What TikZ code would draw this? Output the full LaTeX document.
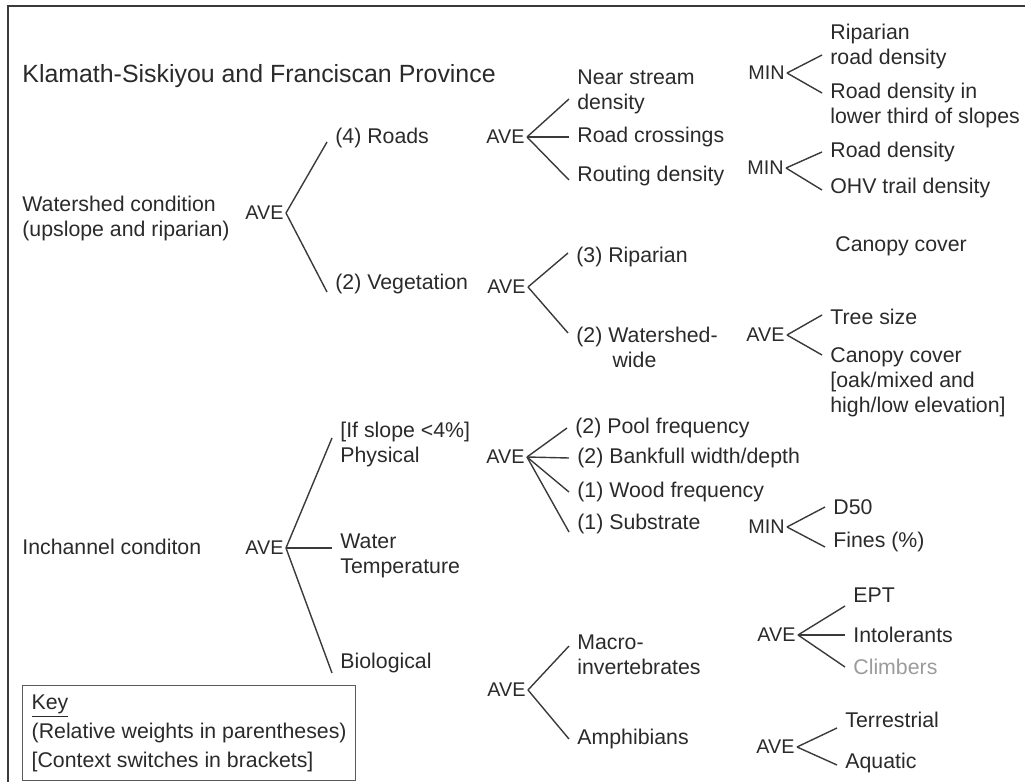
\documentclass[tikz,border=0pt]{standalone}
\usepackage{fontspec}
\setmainfont{Liberation Sans}
\usepackage{tikz}

\definecolor{ink}{HTML}{2A2A2A}
\definecolor{lineclr}{HTML}{3A3A3A}
\definecolor{faint}{HTML}{9B9B9B}
\definecolor{keyclr}{HTML}{5A5A5A}

\begin{document}
\begin{tikzpicture}[x=0.5pt,y=-0.5pt,
      root node/.style={anchor=west,inner sep=0pt,text=ink,align=left,
        font=\fontsize{10.65pt}{12.5pt}\selectfont},
      op node/.style={anchor=east,inner xsep=1pt,inner ysep=1pt,text=ink,
        font=\fontsize{9.9pt}{11pt}\selectfont},
      leaf node/.style={anchor=west,inner xsep=4pt,inner ysep=1pt,text=ink,
        align=left,font=\fontsize{10.65pt}{12.5pt}\selectfont}]
    \useasboundingbox (0,0) rectangle (1025,782);
    \draw[lineclr,line width=1pt] (1025,6) -| (8,782);

    \node[root node,font=\fontsize{12.45pt}{15pt}\selectfont] (title) at (22,76)
      {Klamath-Siskiyou and Franciscan Province};
    \node[root node] (ws) at (22,218) {Watershed condition\\(upslope and riparian)};
    \node[root node] (inch) at (22,547) {Inchannel conditon};

    % operators
    \node[op node] (aveWS) at (286,213) {AVE};
    \node[op node] (aveIC) at (286,548) {AVE};
    \node[op node] (aveRoad) at (527,137) {AVE};
    \node[op node] (aveVeg) at (528,287) {AVE};
    \node[op node] (avePhys) at (527,457) {AVE};
    \node[op node] (aveBio) at (528,690) {AVE};
    \node[op node] (minRip) at (787,73) {MIN};
    \node[op node] (minRoad) at (786,168) {MIN};
    \node[op node] (aveWide) at (787,335) {AVE};
    \node[op node] (minSub) at (787,527) {MIN};
    \node[op node] (aveMac) at (798,635) {AVE};
    \node[op node] (aveAmp) at (797,747) {AVE};

    % first level
    \node[leaf node] (roads) at (327,138) {(4) Roads};
    \node[leaf node] (veg) at (327,284) {(2) Vegetation};
    \node[leaf node] (phys) at (332,444) {[If slope <4\%]\\Physical};
    \node[leaf node] (wtemp) at (332,556) {Water\\Temperature};
    \node[leaf node] (bio) at (332,663) {Biological};

    % second level
    \node[leaf node] (near) at (569,92) {Near stream\\density};
    \node[leaf node] (cross) at (569,137) {Road crossings};
    \node[leaf node] (routing) at (569,176) {Routing density};
    \node[leaf node] (ripar) at (568,257) {(3) Riparian};
    \node[leaf node] (wide) at (568,347) {(2) Watershed-\\\hspace*{1.7em}wide};
    \node[leaf node] (pool) at (567,428) {(2) Pool frequency};
    \node[leaf node] (bank) at (569,458) {(2) Bankfull width/depth};
    \node[leaf node] (wood) at (569,492) {(1) Wood frequency};
    \node[leaf node] (subst) at (569,524) {(1) Substrate};
    \node[leaf node] (macro) at (569,655) {Macro-\\invertebrates};
    \node[leaf node] (amph) at (569,739) {Amphibians};

    % third level
    \node[leaf node] (ripRoad) at (822,46) {Riparian\\road density};
    \node[leaf node] (lowRoad) at (822,105) {Road density in\\lower third of slopes};
    \node[leaf node] (roadDen) at (822,152) {Road density};
    \node[leaf node] (ohv) at (822,188) {OHV trail density};
    \node[leaf node] (canopyR) at (827,246) {Canopy cover};
    \node[leaf node] (tree) at (822,317) {Tree size};
    \node[leaf node] (canopyW) at (822,382)
      {Canopy cover\\{}[oak/mixed and\\high/low elevation]};
    \node[leaf node] (d50) at (825,507) {D50};
    \node[leaf node] (fines) at (825,542) {Fines (\%)};
    \node[leaf node] (ept) at (845,595) {EPT};
    \node[leaf node] (intol) at (845,635) {Intolerants};
    \node[leaf node,text=faint] (climb) at (845,667) {Climbers};
    \node[leaf node] (terr) at (837,720) {Terrestrial};
    \node[leaf node] (aqua) at (837,763) {Aquatic};

    \path[lineclr,line width=0.7pt]
    (aveWS.east) edge ([yshift=-2pt]roads.west)
    (aveWS.east) edge ([yshift=-4pt]veg.west)
    (aveIC.east) edge ([yshift=3pt]phys.west)
    (aveIC.east) edge ([yshift=4pt]wtemp.west)
    (aveIC.east) edge ([yshift=-5pt]bio.west)
    (aveRoad.east) edge ([yshift=-3.5pt]near.west)
    (aveRoad.east) edge (cross.west)
    (aveRoad.east) edge ([yshift=-2pt]routing.west)
    (aveVeg.east) edge ([yshift=2pt]ripar.west)
    (aveVeg.east) edge ([yshift=7pt]wide.west)
    (avePhys.east) edge (pool.west)
    (avePhys.east) edge (bank.west)
    (avePhys.east) edge (wood.west)
    (avePhys.east) edge ([yshift=-4pt]subst.west)
    (aveBio.east) edge ([yshift=4.5pt]macro.west)
    (aveBio.east) edge (amph.west)
    (minRip.east) edge ([yshift=-4.5pt]ripRoad.west)
    (minRip.east) edge ([yshift=6pt]lowRoad.west)
    (minRoad.east) edge (roadDen.west)
    (minRoad.east) edge ([yshift=-1pt]ohv.west)
    (aveWide.east) edge ([yshift=1pt]tree.west)
    (aveWide.east) edge ([yshift=13.5pt]canopyW.west)
    (minSub.east) edge (d50.west)
    (minSub.east) edge ([yshift=-2.5pt]fines.west)
    (aveMac.east) edge ([yshift=-5.5pt]ept.west)
    (aveMac.east) edge (intol.west)
    (aveMac.east) edge (climb.west)
    (aveAmp.east) edge ([yshift=-4pt]terr.west)
    (aveAmp.east) edge ([yshift=-1pt]aqua.west)
    ;

    % key
    \node[draw=keyclr,line width=0.7pt,anchor=north west,inner xsep=4.5pt,
      inner ysep=4.5pt,text=ink,align=left,
      font=\fontsize{10.65pt}{14.5pt}\selectfont] (key) at (22,685)
      {\underline{Key}\\(Relative weights in parentheses)\\{}[Context switches in brackets]};
  \end{tikzpicture}
\end{document}
